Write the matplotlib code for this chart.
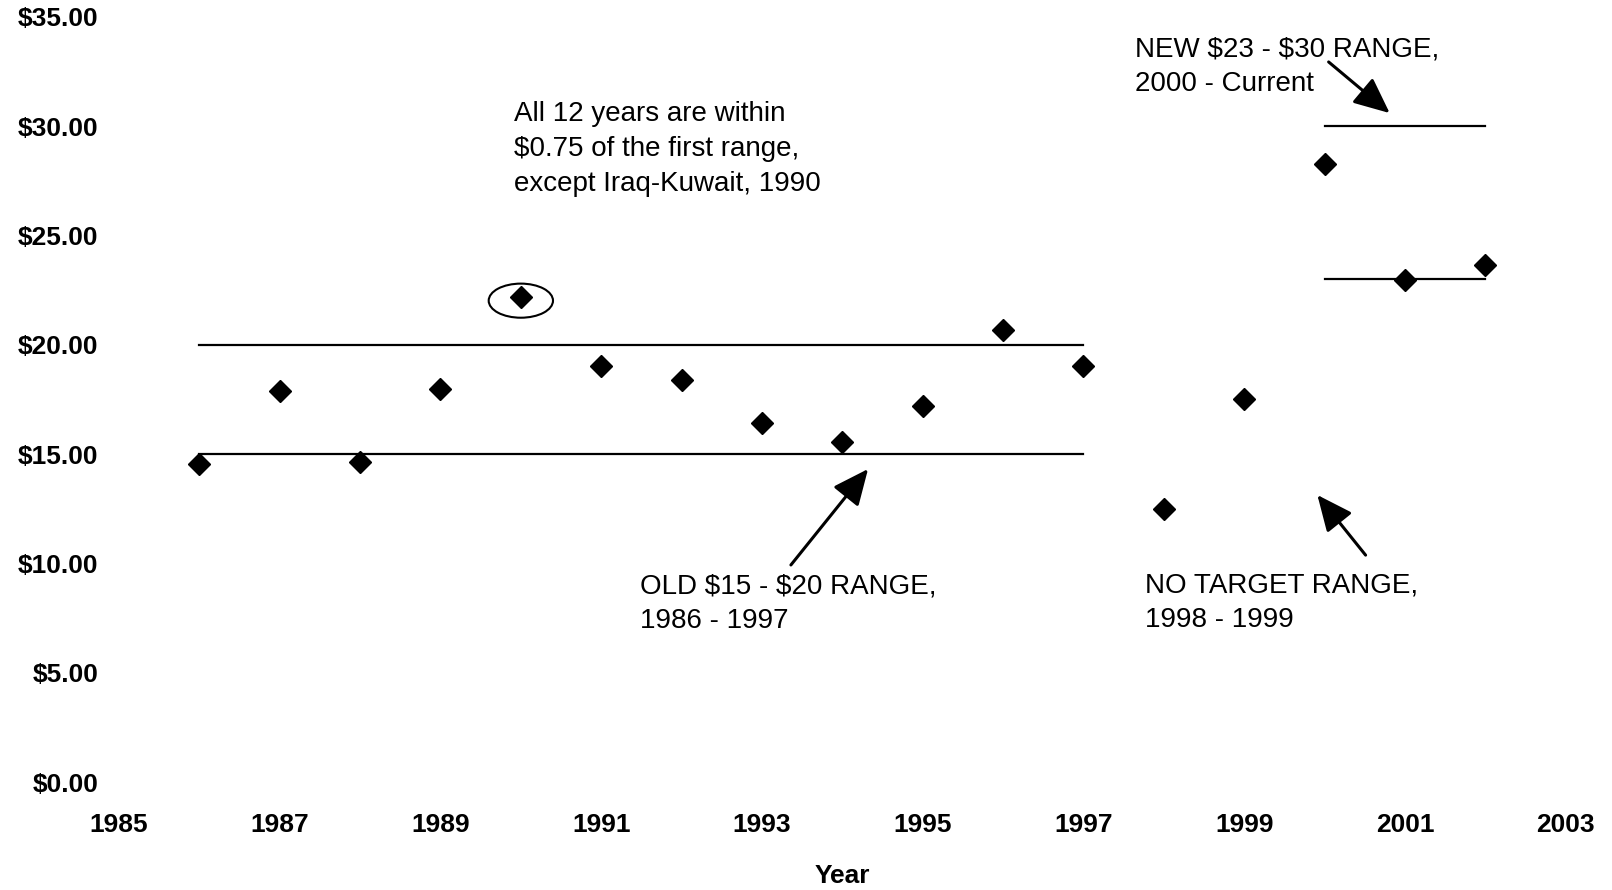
import matplotlib
matplotlib.use("Agg")
import matplotlib.pyplot as plt
from matplotlib.patches import Ellipse

plt.rcParams['font.family'] = ['Liberation Sans', 'DejaVu Sans']

years = [1986, 1987, 1988, 1989, 1990, 1991, 1992, 1993, 1994, 1995, 1996,
         1997, 1998, 1999, 2000, 2001, 2002]
prices = [14.54, 17.88, 14.63, 17.97, 22.2, 19.05, 18.39, 16.42, 15.57, 17.22,
          20.70, 19.05, 12.51, 17.50, 28.27, 22.96, 23.66]

old_range_years = [1986, 1997]
old_range_low, old_range_high = 15, 20
new_range_years = [2000, 2002]
new_range_low, new_range_high = 23, 30

x_ticks = list(range(1985, 2004, 2))
y_ticks = list(range(0, 36, 5))
y_tick_labels = [f"${v:.2f}" for v in y_ticks]

fig = plt.figure(figsize=(16.12, 8.90), dpi=100)
ax = fig.add_axes([0.0738, 0.1213, 0.9713 - 0.0738, 0.981 - 0.1213])

for lvl in (old_range_low, old_range_high):
    ax.plot(old_range_years, [lvl, lvl], color='black', lw=1.6)
for lvl in (new_range_low, new_range_high):
    ax.plot(new_range_years, [lvl, lvl], color='black', lw=1.6)

ax.plot(years, prices, linestyle='none', marker='D', markersize=11,
        color='black', zorder=3)

ax.add_patch(Ellipse((1990, 22.02), 0.8, 1.56, fill=False, lw=1.5,
                     edgecolor='black'))

ax.set_xlim(1985, 2003)
ax.set_ylim(0, 35)
ax.set_xticks(x_ticks)
ax.set_yticks(y_ticks)
ax.set_yticklabels(y_tick_labels)
ax.tick_params(length=0, labelsize=19)
ax.tick_params(axis='y', pad=15)
ax.tick_params(axis='x', pad=22)
for lab in ax.get_xticklabels() + ax.get_yticklabels():
    lab.set_fontweight('bold')
for s in ax.spines.values():
    s.set_visible(False)
ax.set_xlabel('Year', fontsize=19, fontweight='bold', labelpad=20)

tkw = dict(fontsize=20, ha='left', va='center', linespacing=1.45)
ax.text(1989.92, 28.95, "All 12 years are within\n$0.75 of the first range,\nexcept Iraq-Kuwait, 1990", **tkw)
ax.text(1991.48, 8.16, "OLD \\$15 - \\$20 RANGE,\n1986 - 1997", **tkw)
ax.text(1997.76, 8.2, "NO TARGET RANGE,\n1998 - 1999", **tkw)
ax.text(1997.64, 32.73, "NEW \\$23 - \\$30 RANGE,\n2000 - Current", **tkw)

akw = dict(arrowstyle='-|>,head_length=1.0,head_width=0.45', lw=2.2,
           color='black', mutation_scale=22, shrinkA=0, shrinkB=0)
ax.annotate('', xy=(1994.32, 14.32), xytext=(1993.36, 9.93), arrowprops=akw)
ax.annotate('', xy=(1999.91, 13.13), xytext=(2000.51, 10.38), arrowprops=akw)
ax.annotate('', xy=(2000.81, 30.6), xytext=(2000.05, 32.94), arrowprops=akw)

fig.savefig('out.png', dpi=100)
